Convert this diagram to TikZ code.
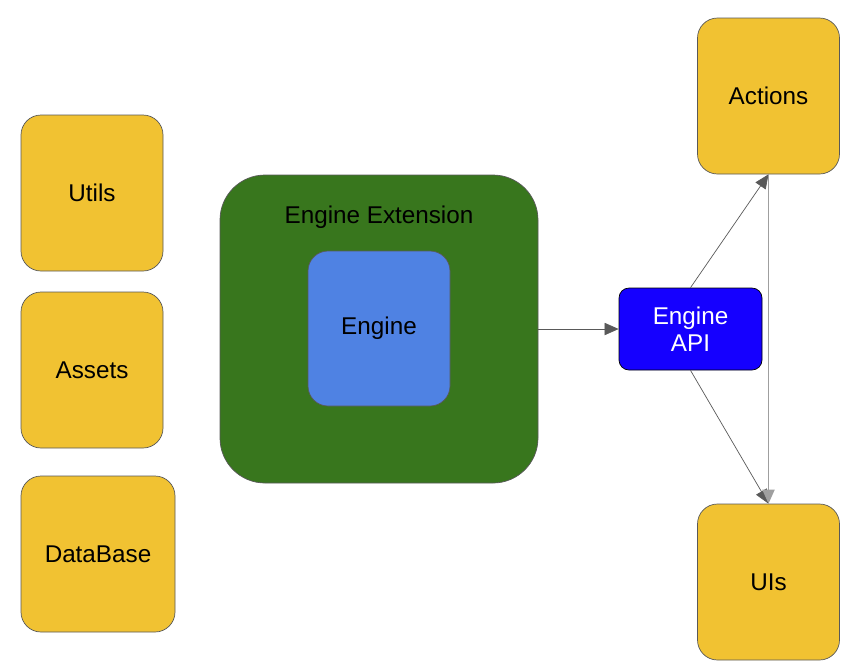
\documentclass[tikz,border=0pt]{standalone}
\usepackage{fontspec}
\setmainfont{Liberation Sans}
\usetikzlibrary{arrows.meta}

\definecolor{modyellow}{HTML}{F1C232}
\definecolor{extgreen}{HTML}{38761D}
\definecolor{coreblue}{HTML}{4F82E3}
\definecolor{apiblue}{HTML}{1500FF}
\definecolor{edgegray}{HTML}{595959}

\tikzset{
    module/.style={draw=edgegray, fill=modyellow, rounded corners=0.4cm, minimum width=2.84cm, minimum height=3.12cm, font=\fontsize{13.8}{15.5}\selectfont},
    link/.style={draw=edgegray, -{Triangle[length=8pt,width=7pt]}},
}

\begin{document}
\begin{tikzpicture}
            \useasboundingbox (0,0) rectangle (17,-13.38);

            % Helper modules on the left
            \node[module] (utils) at (1.84,-3.86) {Utils};
            \node[module] (assets) at (1.84,-7.40) {Assets};
            \node[module, minimum width=3.08cm] (database) at (1.96,-11.08) {DataBase};

            % Engine wrapped by its extension
            \node[draw=edgegray, fill=extgreen, rounded corners=0.9cm, minimum width=6.36cm, minimum height=6.16cm] (ext) at (7.58,-6.58) {};
            \node[font=\fontsize{13.8}{15.5}\selectfont] (extlabel) at (7.58,-4.34) {Engine Extension};
            \node[draw=edgegray, fill=coreblue, rounded corners=0.4cm, minimum width=2.84cm, minimum height=3.1cm, font=\fontsize{13.8}{15.5}\selectfont] (engine) at (7.58,-6.57) {Engine};

            % API in the middle
            \node[draw=black, fill=apiblue, text=white, rounded corners=0.2cm, minimum width=2.86cm, minimum height=1.64cm, align=center, font=\fontsize{13.8}{15.5}\selectfont] (api) at (13.81,-6.58) {Engine\\API};

            % Modules on the right
            \node[module] (actions) at (15.37,-1.92) {Actions};
            \node[module] (uis) at (15.37,-11.64) {UIs};

            % Connections
            \draw[link] (ext.east) -- (api.west);
            \draw[link] (api.north) -- (actions.south);
            \draw[link] (api.south) -- (uis.north);
            \draw[link, draw=gray!75, line width=0.6pt] (actions.south) -- (uis.north);
        \end{tikzpicture}
\end{document}
